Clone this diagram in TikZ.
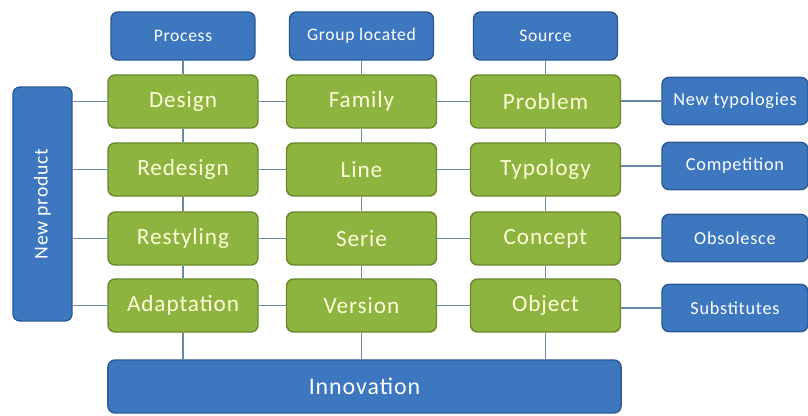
\documentclass[tikz,border=0pt]{standalone}
\usepackage{fontspec}
\setmainfont{Carlito}[LetterSpace=4]

\definecolor{boxblue}{HTML}{3C77C0}
\definecolor{boxblueline}{HTML}{2C5A92}
\definecolor{boxgreen}{HTML}{8DB43F}
\definecolor{boxgreenline}{HTML}{6A8A2E}
\definecolor{linkgray}{HTML}{6A87A4}

\tikzset{
  base/.style={rounded corners=5pt, line width=1pt, inner sep=0pt, align=center},
  bluebox/.style={base, fill=boxblue, draw=boxblueline, text=white},
  greenbox/.style={base, fill=boxgreen, draw=boxgreenline, text=white!85!yellow,
    minimum width=3.75cm, minimum height=1.325cm, font=\fontsize{16.5}{19}\selectfont},
  link/.style={linkgray, line width=1pt}
}

\begin{document}
\begin{tikzpicture}[x=0.025cm, y=-0.025cm]
  \useasboundingbox (0,0) rectangle (808,415);
  % Column heads
  \foreach \x/\lab [count=\c] in {183/Process, 361.5/Group located, 545.5/Source} {
    \node[bluebox, minimum width=3.6cm, minimum height=1.2cm,
      font=\fontsize{12.5}{15}\selectfont] (t\c) at (\x,36) {\lab};
  }
  % Grid of green boxes
  \foreach \y/\a/\b/\cc [count=\r] in {101.5/Design/Family/Problem,
      169.5/Redesign/Line/Typology, 238.5/Restyling/Serie/Concept,
      305.5/Adaptation/Version/Object} {
    \node[greenbox] (g\r1) at (183,\y) {\a};
    \node[greenbox] (g\r2) at (361.5,\y) {\b};
    \node[greenbox] (g\r3) at (545.5,\y) {\cc};
  }
  % Right side boxes
  \foreach \y/\lab [count=\r] in {101/New typologies, 166/Competition,
      238/Obsolesce, 308/Substitutes} {
    \node[bluebox, minimum width=3.65cm, minimum height=1.18cm,
      font=\fontsize{13}{15}\selectfont] (r\r) at (735,\y) {\lab};
  }
  % Left and bottom bars
  \node[bluebox, minimum width=1.475cm, minimum height=5.85cm,
    font=\fontsize{14}{17}\selectfont] (newprod) at (42.5,204)
    {\rotatebox{90}{New product}};
  \node[bluebox, minimum width=12.825cm, minimum height=1.325cm,
    font=\fontsize{17}{20}\selectfont] (innov) at (364.5,386.5) {Innovation};
  % Row links
  \foreach \r in {1,...,4} {
    \draw[link] (g\r1.west -| newprod.east) -- (g\r1);
    \draw[link] (g\r1) -- (g\r2);
    \draw[link] (g\r2) -- (g\r3);
    \draw[link] (r\r.west -| g\r3.east) -- (r\r);
  }
  % Column links
  \foreach \c in {1,2,3} {
    \draw[link] (t\c) -- (g1\c);
    \draw[link] (g1\c) -- (g2\c);
    \draw[link] (g2\c) -- (g3\c);
    \draw[link] (g3\c) -- (g4\c);
    \draw[link] (g4\c) -- (g4\c.south |- innov.north);
  }
\end{tikzpicture}
\end{document}
